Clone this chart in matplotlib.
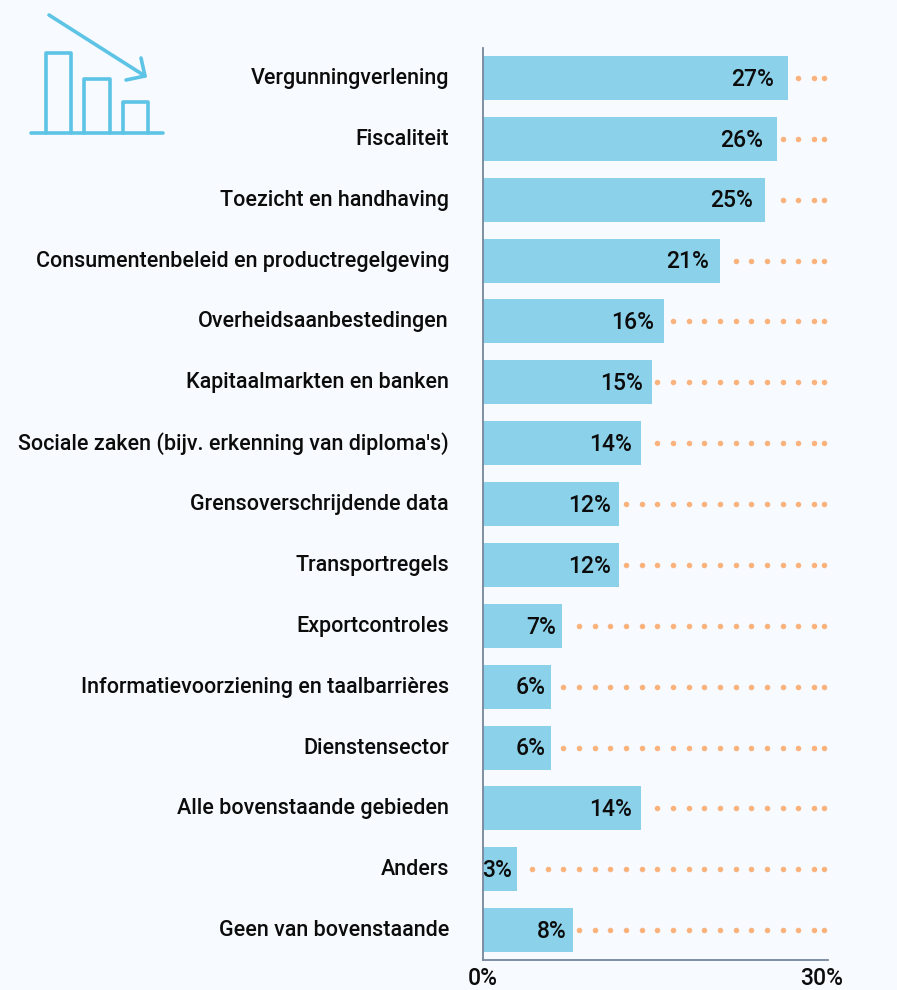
# Horizontal bar chart with dotted guide lines and a small icon top left
import numpy as np
import matplotlib
matplotlib.use("Agg")
import matplotlib.pyplot as plt
from matplotlib.transforms import ScaledTranslation

categories = ["Vergunningverlening", "Fiscaliteit", "Toezicht en handhaving",
              "Consumentenbeleid en productregelgeving", "Overheidsaanbestedingen",
              "Kapitaalmarkten en banken", "Sociale zaken (bijv. erkenning van diploma's)",
              "Grensoverschrijdende data", "Transportregels", "Exportcontroles",
              "Informatievoorziening en taalbarrières", "Dienstensector",
              "Alle bovenstaande gebieden", "Anders", "Geen van bovenstaande"]
values = [27, 26, 25, 21, 16, 15, 14, 12, 12, 7, 6, 6, 14, 3, 8]
tick_values = [0, 30]
tick_labels = ["0%", "30%"]

bg = "#f7fbff"
bar_color = "#8bd1e9"
dot_color = "#fbb37e"
icon_color = "#5ec4e6"
axis_color = "#76869c"

W, H = 897, 990
plt.rcParams['font.family'] = ['Roboto', 'DejaVu Sans']

def main():
    fig = plt.figure(figsize=(W / 100, H / 100), dpi=100, facecolor=bg)
    ax = fig.add_axes([483 / W, 1 - 960 / H, 345 / W, 912 / H], facecolor=bg)

    rows = np.arange(len(values))
    ax.barh(rows, values, height=0.723, color=bar_color, zorder=2)
    ax.set_xlim(0, 30.55)
    ax.set_ylim(14.49, -0.493)

    # dots sit on one fixed grid, only those right of the bar are drawn
    grid = np.append(np.arange(29.32, 0, -1.387), 30.2)
    for r, v in zip(rows, values):
        xs = grid[grid > v + 0.35]
        ax.scatter(xs, [r] * len(xs), s=16, color=dot_color, linewidths=0, zorder=1, clip_on=False)
        ax.text(v - (0.3 + v * 0.033), r + 0.02, f"{v}%", ha="right", va="center",
                fontsize=16.5, fontweight="medium", color="#0c0c0c", zorder=3)

    ax.set_yticks(rows)
    ax.set_yticklabels(categories, fontsize=15.5, fontweight="medium", color="#0c0c0c")
    ax.tick_params(axis="y", length=0, pad=24.5)
    up = ScaledTranslation(0, 2 / 100, fig.dpi_scale_trans)
    for lab in ax.get_yticklabels():
        lab.set_transform(lab.get_transform() + up)
    ax.set_xticks(tick_values)
    ax.set_xticklabels(tick_labels, fontsize=16.5, fontweight="medium", color="#0c0c0c")
    ax.tick_params(axis="x", length=0, pad=5)

    for side in ["top", "right"]:
        ax.spines[side].set_visible(False)
    for side in ["left", "bottom"]:
        ax.spines[side].set_color(axis_color)
        ax.spines[side].set_linewidth(1.3)

    # icon, drawn in pixel coordinates
    icon = fig.add_axes([0, 0, 1, 1], facecolor="none")
    icon.set_xlim(0, W)
    icon.set_ylim(H, 0)
    icon.axis("off")
    lw = 2.6
    style = dict(color=icon_color, linewidth=lw, solid_capstyle="round", solid_joinstyle="round")
    icon.plot([31, 163], [133, 133], **style)
    icon.plot([46, 46, 71, 71], [133, 53, 53, 133], **style)
    icon.plot([84, 84, 110, 110], [133, 79, 79, 133], **style)
    icon.plot([123, 123, 148, 148], [133, 102, 102, 133], **style)
    icon.plot([49, 145], [15, 76], **style)
    icon.plot([141, 145, 126], [58, 76, 80], **style)

    fig.savefig("out.png", dpi=100, facecolor=bg)

main()
